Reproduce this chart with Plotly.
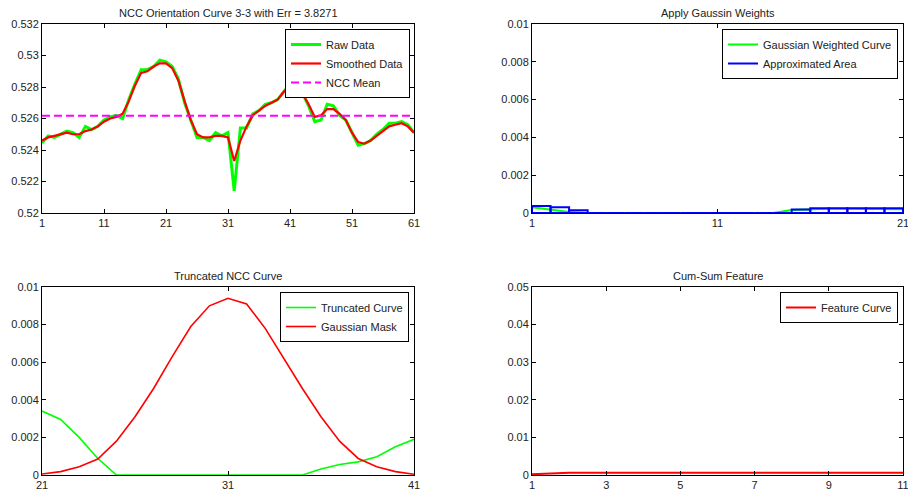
import numpy as np
import plotly.graph_objects as go

# ---------------- data ----------------
raw_x = list(range(1, 62))
raw_data = [0.52444, 0.5249, 0.5248, 0.5250, 0.5252, 0.5251, 0.5248, 0.5255, 0.5253, 0.5255,
            0.5259, 0.5261, 0.5262, 0.5260, 0.5272, 0.5282, 0.5291, 0.5291, 0.5293, 0.5297,
            0.5296, 0.5293, 0.5285, 0.5270, 0.5259, 0.5248, 0.5248, 0.5246, 0.5251, 0.5249,
            0.5251, 0.5214, 0.5254, 0.5254, 0.5263, 0.5265, 0.5269, 0.5270, 0.5272, 0.5277,
            0.5282, 0.5280, 0.5276, 0.5268, 0.5258, 0.5259, 0.5269, 0.5268, 0.5262, 0.5259,
            0.5251, 0.5243, 0.5244, 0.5246, 0.5250, 0.5253, 0.5257, 0.5257, 0.5258, 0.5256,
            0.5251]
smooth_data = [0.52460, 0.5248, 0.5249, 0.5250, 0.5251, 0.5250, 0.5250, 0.5252, 0.5253, 0.5255,
               0.5258, 0.5260, 0.5261, 0.5263, 0.5271, 0.5281, 0.5289, 0.5290, 0.5293, 0.5295,
               0.5295, 0.5292, 0.5284, 0.5271, 0.5259, 0.5250, 0.5248, 0.5248, 0.5249, 0.5249,
               0.5248, 0.5233, 0.5246, 0.5255, 0.5262, 0.5265, 0.5268, 0.5270, 0.5272, 0.5277,
               0.5281, 0.5280, 0.5276, 0.5269, 0.5261, 0.5262, 0.5266, 0.5266, 0.5263, 0.5259,
               0.5251, 0.5245, 0.5244, 0.5246, 0.5249, 0.5252, 0.5255, 0.5256, 0.5257, 0.5255,
               0.5251]
ncc_mean = 0.52617
top_left_yticks = [0.52, 0.522, 0.524, 0.526, 0.528, 0.53, 0.532]
top_left_xticks = [1, 11, 21, 31, 41, 51, 61]

weighted_x = list(range(1, 22))
weighted_curve = [0.0003, 0.00018, 0.00005, 0, 0, 0, 0, 0, 0, 0,
                  0, 0, 0, 0, 0.00016, 0.0002, 0.00022, 0.00022, 0.00022, 0.00022,
                  0.0002]
area_left = list(range(1, 21))
area_heights = [0.00037, 0.0003, 0.00014, 0, 0, 0, 0, 0, 0, 0,
                0, 0, 0, 0, 0.00018, 0.00025, 0.00025, 0.00025, 0.00025, 0.00025]
top_right_yticks = [0, 0.002, 0.004, 0.006, 0.008, 0.01]
top_right_xticks = [1, 11, 21]

trunc_x = list(range(21, 42))
truncated_curve = [0.0034, 0.00295, 0.0020, 0.00088, 0, 0, 0, 0, 0, 0,
                   0, 0, 0, 0, 0, 0.00032, 0.00056, 0.0007, 0.00097, 0.0015,
                   0.0019]
gaussian_mask = [0.00005, 0.00018, 0.00044, 0.00085, 0.0018, 0.0031, 0.0046, 0.0063, 0.0079, 0.0090,
                 0.0094, 0.0091, 0.0078, 0.0062, 0.0046, 0.0031, 0.0018, 0.00088, 0.00044, 0.00018,
                 0.00004]
bottom_left_yticks = [0, 0.002, 0.004, 0.006, 0.008, 0.01]
bottom_left_xticks = [21, 31, 41]

feature_x = [1, 1.5, 2, 2.5, 3, 4, 5, 6, 7, 8, 9, 10, 11]
feature_curve = [0.0002, 0.0005, 0.0006, 0.0006, 0.0006, 0.0006, 0.0006, 0.0006, 0.0006, 0.0006,
                 0.0006, 0.0006, 0.0006]
bottom_right_yticks = [0, 0.01, 0.02, 0.03, 0.04, 0.05]
bottom_right_xticks = [1, 3, 5, 7, 9, 11]

# ---------------- layout helpers ----------------
W, H = 908, 490
FONT = "Liberation Sans, Arial, sans-serif"
TXT = "#222222"

def px_x(v):
    return v / W

def px_y(v):
    return 1 - v / H

dom_x = [[px_x(42), px_x(414)], [px_x(532), px_x(903)]]
dom_y_top = [px_y(213), px_y(24)]
dom_y_bot = [px_y(475), px_y(287)]

fig = go.Figure()

# top-left
fig.add_trace(go.Scatter(x=raw_x, y=raw_data, mode="lines", name="Raw Data",
                         line=dict(color="#00FF00", width=3), xaxis="x", yaxis="y", legend="legend"))
fig.add_trace(go.Scatter(x=raw_x, y=smooth_data, mode="lines", name="Smoothed Data",
                         line=dict(color="#FF0000", width=2.2), xaxis="x", yaxis="y", legend="legend"))
fig.add_trace(go.Scatter(x=[raw_x[0], raw_x[-1]], y=[ncc_mean, ncc_mean], mode="lines", name="NCC Mean",
                         line=dict(color="#FF00FF", width=2, dash="8px,4px"), xaxis="x", yaxis="y", legend="legend"))

# top-right
fig.add_trace(go.Scatter(x=weighted_x, y=weighted_curve, mode="lines", name="Gaussian Weighted Curve",
                         line=dict(color="#00FF00", width=2), xaxis="x2", yaxis="y2", legend="legend2"))
rx, ry = [], []
for left, h in zip(area_left, area_heights):
    rx += [left, left, left + 1, left + 1, left, None]
    ry += [0, h, h, 0, 0, None]
fig.add_trace(go.Scatter(x=rx, y=ry, mode="lines", name="Approximated Area",
                         line=dict(color="#0000FF", width=2), xaxis="x2", yaxis="y2", legend="legend2"))

# bottom-left
fig.add_trace(go.Scatter(x=trunc_x, y=truncated_curve, mode="lines", name="Truncated Curve",
                         line=dict(color="#00FF00", width=1.6), xaxis="x3", yaxis="y3", legend="legend3"))
fig.add_trace(go.Scatter(x=trunc_x, y=gaussian_mask, mode="lines", name="Gaussian Mask",
                         line=dict(color="#FF0000", width=1.6), xaxis="x3", yaxis="y3", legend="legend3"))

# bottom-right
fig.add_trace(go.Scatter(x=feature_x, y=feature_curve, mode="lines", name="Feature Curve",
                         line=dict(color="#FF0000", width=2), xaxis="x4", yaxis="y4", legend="legend4"))

def axis(domain, rng, ticks, anchor):
    return dict(domain=domain, range=rng, tickvals=ticks, ticktext=[f"{t:g}" for t in ticks],
                anchor=anchor, automargin=False, showgrid=False, zeroline=False, showline=True,
                linecolor="#000000", linewidth=1, mirror="ticks", ticks="inside", ticklen=4,
                tickcolor="#000000", tickfont=dict(family=FONT, size=11, color=TXT),
                ticklabeloverflow="allow")

def leg(x_right, y_top):
    return dict(x=px_x(x_right), y=px_y(y_top), xanchor="right", yanchor="top",
                bgcolor="#FFFFFF", bordercolor="#000000", borderwidth=1,
                font=dict(family=FONT, size=11, color=TXT), tracegroupgap=0,
                itemwidth=30)

titles = [("NCC Orientation Curve 3-3 with Err = 3.8271", dom_x[0], dom_y_top),
          ("Apply Gaussin Weights", dom_x[1], dom_y_top),
          ("Truncated NCC Curve", dom_x[0], dom_y_bot),
          ("Cum-Sum Feature", dom_x[1], dom_y_bot)]
annotations = [dict(text=t, x=(dx[0] + dx[1]) / 2, y=dy[1], xref="paper", yref="paper",
                    xanchor="center", yanchor="bottom", yshift=3, showarrow=False,
                    font=dict(family=FONT, size=11, color=TXT)) for t, dx, dy in titles]

fig.update_layout(
    width=W, height=H, margin=dict(l=0, r=0, t=0, b=0, autoexpand=False),
    paper_bgcolor="#FFFFFF", plot_bgcolor="#FFFFFF",
    font=dict(family=FONT, size=11, color=TXT),
    showlegend=True,
    xaxis=axis(dom_x[0], [1, 61], top_left_xticks, "y"),
    yaxis=axis(dom_y_top, [0.52, 0.532], top_left_yticks, "x"),
    xaxis2=axis(dom_x[1], [1, 21], top_right_xticks, "y2"),
    yaxis2=axis(dom_y_top, [0, 0.01], top_right_yticks, "x2"),
    xaxis3=axis(dom_x[0], [21, 41], bottom_left_xticks, "y3"),
    yaxis3=axis(dom_y_bot, [0, 0.01], bottom_left_yticks, "x3"),
    xaxis4=axis(dom_x[1], [1, 11], bottom_right_xticks, "y4"),
    yaxis4=axis(dom_y_bot, [0, 0.05], bottom_right_yticks, "x4"),
    legend=leg(410, 29),
    legend2=leg(898, 29),
    legend3=leg(409, 292),
    legend4=leg(898, 292),
    annotations=annotations,
)

fig.write_html("out.html", config={"displayModeBar": False},
               post_script="document.body.style.margin='0px';document.body.style.overflow='hidden';")
